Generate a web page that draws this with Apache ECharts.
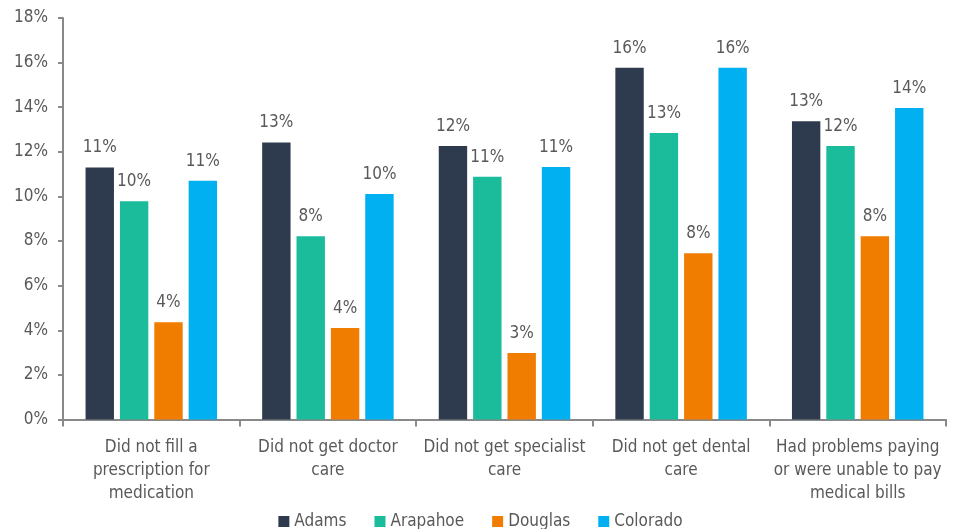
<!DOCTYPE html>
<html>
<head>
<meta charset="utf-8">
<script src="https://cdn.jsdelivr.net/npm/echarts@6/dist/echarts.min.js"></script>
<style>
html,body{margin:0;padding:0;background:#fff;}
#chart{width:961px;height:529px;}
</style>
</head>
<body>
<div id="chart"></div>
<script>
const categories = [
  "Did not fill a\nprescription for\nmedication",
  "Did not get doctor\ncare",
  "Did not get specialist\ncare",
  "Did not get dental\ncare",
  "Had problems paying\nor were unable to pay\nmedical bills"
];
const seriesNames = ["Adams", "Arapahoe", "Douglas", "Colorado"];
const adams    = [11.30, 12.42, 12.26, 15.77, 13.37];
const arapahoe = [9.78, 8.22, 10.88, 12.84, 12.26];
const douglas  = [4.36, 4.10, 2.98, 7.45, 8.22];
const colorado = [10.70, 10.11, 11.32, 15.77, 13.96];
const adamsLabels    = ["11%", "13%", "12%", "16%", "13%"];
const arapahoeLabels = ["10%", "8%", "11%", "13%", "12%"];
const douglasLabels  = ["4%", "4%", "3%", "8%", "8%"];
const coloradoLabels = ["11%", "10%", "11%", "16%", "14%"];
const yTicks = [0, 2, 4, 6, 8, 10, 12, 14, 16, 18];

const colors = ["#2E3B4E", "#1ABC9C", "#F07D00", "#00B0F0"];
const FONT = "'DejaVu Sans Condensed', 'Liberation Sans', sans-serif";
const TEXT = "#595959";
const FS = 17;

const values = [adams, arapahoe, douglas, colorado];
const labels = [adamsLabels, arapahoeLabels, douglasLabels, coloradoLabels];

const chart = echarts.init(document.getElementById('chart'), null, {renderer: 'canvas'});
chart.setOption({
  animation: false,
  color: colors,
  textStyle: {fontFamily: FONT},
  grid: {left: 63, right: 15, top: 18, bottom: 109.5, containLabel: false},
  legend: {
    top: 508,
    left: 'center',
    itemWidth: 11,
    itemHeight: 11,
    itemGap: 28,
    icon: 'rect',
    textStyle: {fontFamily: FONT, fontSize: FS, color: TEXT},
    data: seriesNames
  },
  xAxis: {
    type: 'category',
    data: categories,
    axisLine: {lineStyle: {color: '#898989', width: 2}},
    axisTick: {show: true, length: 7, lineStyle: {color: '#898989', width: 2}},
    axisLabel: {
      interval: 0,
      margin: 17,
      fontFamily: FONT,
      fontSize: FS,
      color: TEXT,
      lineHeight: 23
    }
  },
  yAxis: {
    type: 'value',
    min: yTicks[0],
    max: yTicks[yTicks.length - 1],
    interval: 2,
    splitLine: {show: false},
    axisLine: {show: true, lineStyle: {color: '#898989', width: 2}},
    axisTick: {show: true, length: 5, lineStyle: {color: '#898989', width: 2}},
    axisLabel: {
      margin: 15,
      fontFamily: FONT,
      fontSize: FS,
      color: TEXT,
      formatter: v => v + '%'
    }
  },
  series: seriesNames.map((name, i) => ({
    name: name,
    type: 'bar',
    barWidth: 28.4,
    barGap: '21%',
    data: values[i],
    itemStyle: {color: colors[i]},
    label: {
      show: true,
      position: 'top',
      distance: 11,
      fontFamily: FONT,
      fontSize: FS,
      color: TEXT,
      formatter: p => labels[i][p.dataIndex]
    }
  }))
});
</script>
</body>
</html>
